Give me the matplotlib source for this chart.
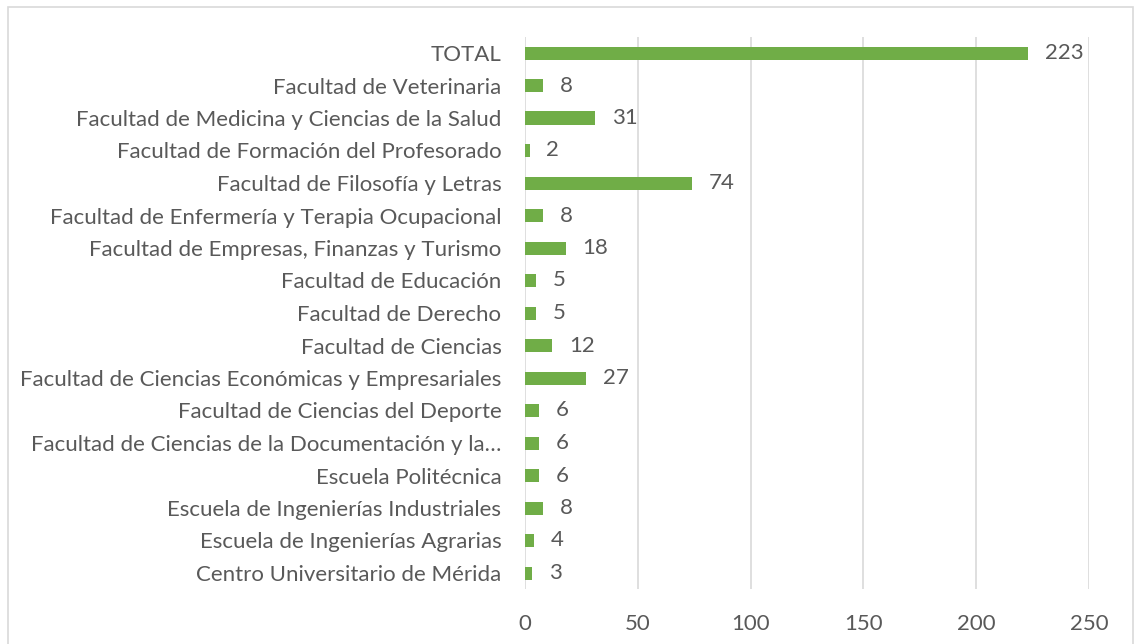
import matplotlib.pyplot as plt
from matplotlib.patches import Rectangle

# Data (bottom to top)
categories = [
    "Centro Universitario de Mérida",
    "Escuela de Ingenierías Agrarias",
    "Escuela de Ingenierías Industriales",
    "Escuela Politécnica",
    "Facultad de Ciencias de la Documentación y la…",
    "Facultad de Ciencias del Deporte",
    "Facultad de Ciencias Económicas y Empresariales",
    "Facultad de Ciencias",
    "Facultad de Derecho",
    "Facultad de Educación",
    "Facultad de Empresas, Finanzas y Turismo",
    "Facultad de Enfermería y Terapia Ocupacional",
    "Facultad de Filosofía y Letras",
    "Facultad de Formación del Profesorado",
    "Facultad de Medicina y Ciencias de la Salud",
    "Facultad de Veterinaria",
    "TOTAL",
]
values = [3, 4, 8, 6, 6, 6, 27, 12, 5, 5, 18, 8, 74, 2, 31, 8, 223]
x_ticks = [0, 50, 100, 150, 200, 250]

BAR_COLOR = "#70AD47"
TEXT_COLOR = "#595959"
GRID_COLOR = "#D9D9D9"
FONT_SIZE = 16

plt.rcParams["font.family"] = ["Lato", "DejaVu Sans"]

fig = plt.figure(figsize=(11.34, 6.44), dpi=100)
ax = fig.add_axes([525 / 1134, 1 - 589.25 / 644, 564 / 1134, 552.5 / 644])

# Light chart frame like the Excel chart area
fig.patches.append(Rectangle((8 / 1134, -0.05), 1125 / 1134, 1 - 7 / 644 + 0.05,
                             transform=fig.transFigure, fill=False,
                             edgecolor=GRID_COLOR, linewidth=1.2))

positions = list(range(len(categories)))
ax.barh(positions, values, height=0.4, color=BAR_COLOR, zorder=3)

# Value labels to the right of each bar
for pos, val in zip(positions, values):
    ax.text(val + 7.5, pos, str(val), va="center", ha="left",
            fontsize=FONT_SIZE, color=TEXT_COLOR)

ax.set_xlim(0, 250)
ax.set_ylim(-0.5, len(categories) - 0.5)
ax.set_xticks(x_ticks)
ax.set_yticks(positions)
ax.set_yticklabels(categories)
ax.tick_params(axis="both", length=0, labelsize=FONT_SIZE, colors=TEXT_COLOR)
ax.tick_params(axis="x", pad=18)
ax.tick_params(axis="y", pad=17)

ax.grid(axis="x", color=GRID_COLOR, linewidth=1.2, zorder=0)
for spine in ax.spines.values():
    spine.set_visible(False)

plt.savefig("out.png", dpi=100)
plt.close()
